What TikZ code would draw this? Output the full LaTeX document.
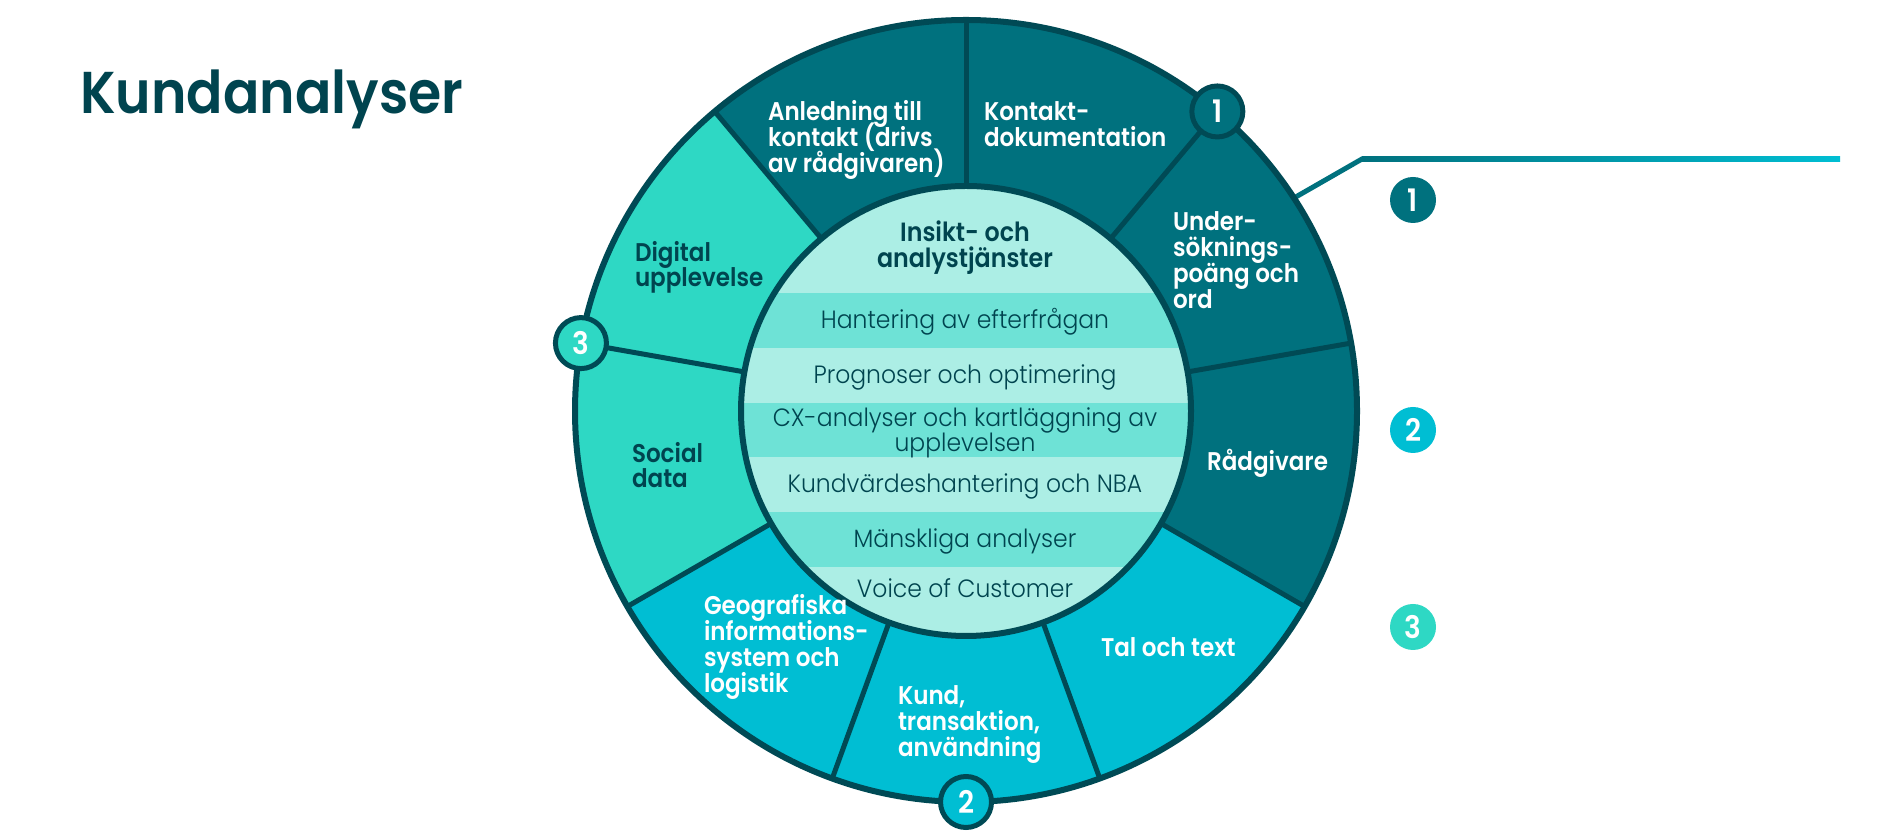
\documentclass[tikz,border=0pt]{standalone}
\usepackage{fontspec}
\usetikzlibrary{calc}
\newfontfamily\fsb[FakeStretch=0.9]{Poppins SemiBold}
\newfontfamily\ftitle[FakeStretch=0.91]{Poppins SemiBold}
\newfontfamily\flight[FakeStretch=0.94]{Poppins Light}
\definecolor{bord}{HTML}{004A55}
\definecolor{darkteal}{HTML}{00717E}
\definecolor{cyanseg}{HTML}{00BED3}
\definecolor{aqua}{HTML}{2ED8C4}
\definecolor{lightstripe}{HTML}{ACEEE5}
\definecolor{midstripe}{HTML}{6EE2D6}
\definecolor{titlecol}{HTML}{00444F}
\newcommand\wseg[3]{\fill[#1] ($(C)+(#2:391)$) arc[start angle=#2, end angle=#3, radius=391] -- ($(C)+(#3:225)$) arc[start angle=#3, end angle=#2, radius=225] -- cycle;}
\begin{document}
\begin{tikzpicture}[x=0.5pt,y=0.5pt,
  seglab/.style={anchor=base west, inner sep=0, outer sep=0, text=white, font=\fsb\fontsize{12.8}{13}\selectfont},
  seglabdark/.style={seglab, text=titlecol},
  innerlab/.style={anchor=base, inner sep=0, outer sep=0, text=titlecol, font=\flight\fontsize{12.5}{12}\selectfont},
  innertitle/.style={anchor=base, inner sep=0, outer sep=0, text=titlecol, font=\fsb\fontsize{13.2}{13}\selectfont},
  badge/.style={circle, draw=bord, line width=2.5pt, minimum size=25.5pt, inner sep=0, text=white, font=\fsb\fontsize{15.5}{15}\selectfont},
  legendbadge/.style={circle, minimum size=23pt, inner sep=0, text=white, font=\fsb\fontsize{15.5}{15}\selectfont}
]
\useasboundingbox (0,0) rectangle (1899,833);
\fill[white] (0,0) rectangle (1899,833);
\coordinate (C) at (966,422);

% title
\node[anchor=base west, inner sep=0, text=titlecol, font=\ftitle\fontsize{29.5}{30}\selectfont] (title) at (80,719) {Kundanalyser};

% connector
\coordinate (cs) at ($(C)+(33:391)$);
\coordinate (ck) at (1362,674);
\coordinate (ce) at (1840,674);
\draw[darkteal, line width=2.5pt, line join=miter] (cs) -- (ck) -- ++(4,0);
\shade[left color=darkteal, right color=cyanseg] ($(ck)+(0,-2.5)$) rectangle ($(ce)+(0,2.5)$);

% segments
\wseg{darkteal}{90}{130}
\wseg{darkteal}{50}{90}
\wseg{darkteal}{10}{50}
\wseg{darkteal}{-30}{10}
\wseg{cyanseg}{-70}{-30}
\wseg{cyanseg}{-110}{-70}
\wseg{cyanseg}{-150}{-110}
\wseg{aqua}{170}{210}
\wseg{aqua}{130}{170}

% inner circle with stripes
\begin{scope}
\clip (C) circle[radius=225];
\fill[lightstripe] (C) circle[radius=225];
\fill[midstripe] (700,485) rectangle (1250,540);
\fill[midstripe] (700,376) rectangle (1250,430);
\fill[midstripe] (700,266) rectangle (1250,321);
\end{scope}

% dividers
\foreach \a in {90,50,10,-30,-70,-110,-150,170,130}
  \draw[bord, line width=2.5pt] ($(C)+(\a:225)$) -- ($(C)+(\a:391)$);
\draw[bord, line width=3pt] (C) circle[radius=225];
\draw[bord, line width=3pt] (C) circle[radius=391];

% badges on ring
\node[badge, fill=darkteal] (b1) at ($(C)+(50:391)$) {1};
\node[badge, fill=aqua] (b3) at ($(C)+(170:391)$) {3};
\node[badge, fill=cyanseg] (b2) at ($(C)+(270:391)$) {2};

% legend badges
\node[legendbadge, fill=darkteal] (l1) at (1413,633) {1};
\node[legendbadge, fill=cyanseg] (l2) at (1413,403) {2};
\node[legendbadge, fill=aqua] (l3) at (1413,206) {3};

% segment labels
\node[seglab] (a1) at (768,712) {Anledning till};
\node[seglab] (a2) at (768,686) {kontakt (drivs};
\node[seglab] (a3) at (768,660) {av rådgivaren)};
\node[seglab] (k1) at (984,712) {Kontakt-};
\node[seglab] (k2) at (984,686) {dokumentation};
\node[seglab] (u1) at (1173,602) {Under-};
\node[seglab] (u2) at (1173,576) {söknings-};
\node[seglab] (u3) at (1173,550) {poäng och};
\node[seglab] (u4) at (1173,524) {ord};
\node[seglab] (r1) at (1207,362) {Rådgivare};
\node[seglab] (t1) at (1101,176) {Tal och text};
\node[seglab] (kt1) at (898,128) {Kund,};
\node[seglab] (kt2) at (898,102) {transaktion,};
\node[seglab] (kt3) at (898,76) {användning};
\node[seglab] (g1) at (704,218) {Geografiska};
\node[seglab] (g2) at (704,192) {informations-};
\node[seglab] (g3) at (704,166) {system och};
\node[seglab] (g4) at (704,140) {logistik};
\node[seglabdark] (s1) at (632,370) {Social};
\node[seglabdark] (s2) at (632,345) {data};
\node[seglabdark] (d1) at (635,571) {Digital};
\node[seglabdark] (d2) at (635,546) {upplevelse};

% inner labels
\node[innertitle] (i1) at (965,591) {Insikt- och};
\node[innertitle] (i2) at (965,565) {analystjänster};
\node[innerlab] (h1) at (965,504) {Hantering av efterfrågan};
\node[innerlab] (p1) at (965,449) {Prognoser och optimering};
\node[innerlab] (c1) at (965,406) {CX-analyser och kartläggning av};
\node[innerlab] (c2) at (965,381) {upplevelsen};
\node[innerlab] (kv1) at (965,340) {Kundvärdeshantering och NBA};
\node[innerlab] (m1) at (965,285) {Mänskliga analyser};
\node[innerlab] (v1) at (965,235) {Voice of Customer};
\end{tikzpicture}
\end{document}
